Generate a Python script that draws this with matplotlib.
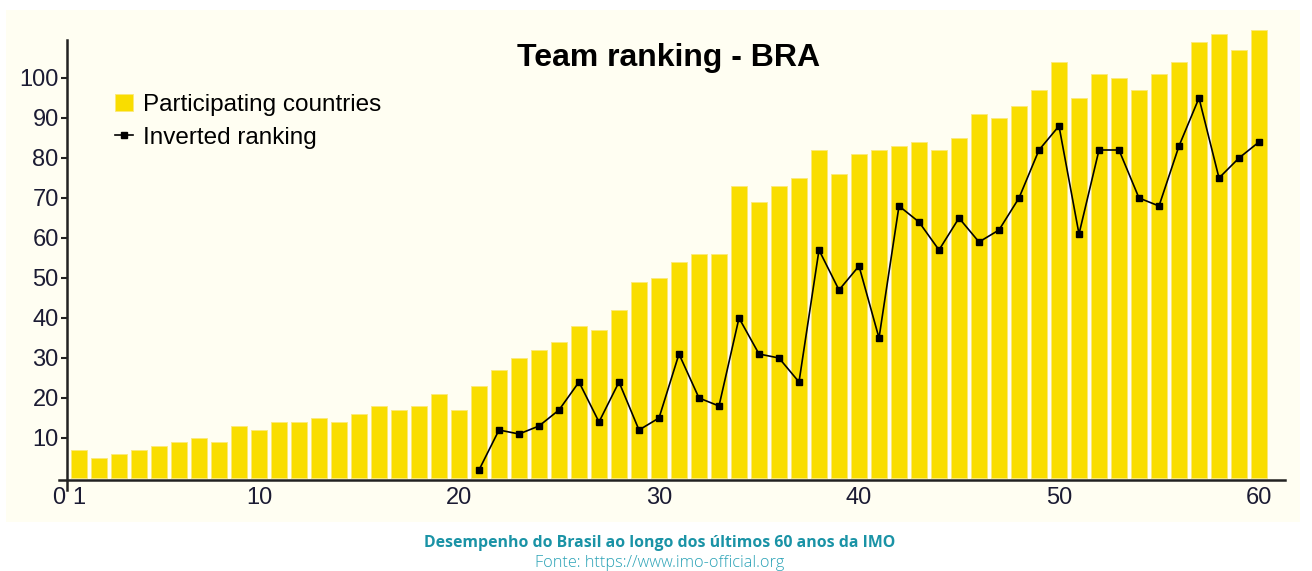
import numpy as np
import matplotlib.pyplot as plt

# participating countries per edition (1..60)
editions = np.arange(1, 61)
countries = [7, 5, 6, 7, 8, 9, 10, 9, 13, 12,
             14, 14, 15, 14, 16, 18, 17, 18, 21, 17,
             23, 27, 30, 32, 34, 38, 37, 42, 49, 50,
             54, 56, 56, 73, 69, 73, 75, 82, 76, 81,
             82, 83, 84, 82, 85, 91, 90, 93, 97, 104,
             95, 101, 100, 97, 101, 104, 109, 111, 107, 112]

# Brazil inverted ranking, editions 21..60
rank_editions = np.arange(21, 61)
inv_ranking = [2, 12, 11, 13, 17, 24, 14, 24, 12, 15,
               31, 20, 18, 40, 31, 30, 24, 57, 47, 53,
               35, 68, 64, 57, 65, 59, 62, 70, 82, 88,
               61, 82, 82, 70, 68, 83, 95, 75, 80, 84]

yticks = [10, 20, 30, 40, 50, 60, 70, 80, 90, 100]
xticks = [0, 1, 10, 20, 30, 40, 50, 60]

W, H = 1312, 571
fig = plt.figure(figsize=(W / 100, H / 100), dpi=100)
fig.patch.set_facecolor('white')

# cream panel behind the chart
panel = plt.Rectangle((6 / W, 1 - 522 / H), (1300 - 6) / W, (522 - 10) / H,
                      transform=fig.transFigure, facecolor='#fffef2',
                      edgecolor='none', zorder=-10)
fig.add_artist(panel)

ax = fig.add_axes([59 / W, 91 / H, 1226 / W, 460 / H])
ax.set_facecolor('none')

bars = ax.bar(editions, countries, width=0.82, color='#f9dd00', edgecolor='#fbe97a',
              linewidth=0.6, clip_on=False, label='Participating countries', zorder=2)
line, = ax.plot(rank_editions, inv_ranking, color='black', lw=1.2, marker='s', ms=4,
                label='Inverted ranking', zorder=3)

ax.set_xlim(0, 61.3)
ax.set_ylim(-0.5, 114.5)

for s in ['top', 'right']:
    ax.spines[s].set_visible(False)
ax.spines['left'].set_position(('data', 0.4))
ax.spines['left'].set_bounds(-3, 109.5)
ax.spines['left'].set_linewidth(1.8)
ax.spines['left'].set_color('#222222')
ax.spines['bottom'].set_linewidth(1.8)
ax.spines['bottom'].set_color('#222222')

ax.set_yticks(yticks)
ax.set_xticks(xticks)
ax.set_xticklabels([str(t) for t in xticks])
ax.tick_params(axis='y', length=4, width=1.5, color='#222222', pad=2,
               labelsize=17, labelcolor='#1b1b33')
ax.tick_params(axis='x', length=0, pad=5, labelsize=17, labelcolor='#1b1b33')
for lab in ax.get_xticklabels() + ax.get_yticklabels():
    lab.set_fontfamily('Liberation Sans')

ax.text(0.5 * (517 + 820) / W, 1 - 58 / H, 'Team ranking - BRA',
        transform=fig.transFigure, ha='center', va='center',
        fontsize=23, fontweight='bold', family='Liberation Sans', color='black')

leg = ax.legend([bars, line], ['Participating countries', 'Inverted ranking'],
                loc='upper left', bbox_to_anchor=(115 / W, 1 - 94 / H),
                bbox_transform=fig.transFigure, frameon=False,
                prop={'family': 'Liberation Sans', 'size': 17.5},
                handlelength=0.75, handleheight=0.7, handletextpad=0.4,
                labelspacing=0.45, borderaxespad=0, borderpad=0)

fig.text(660 / W, 1 - 543 / H, 'Desempenho do Brasil ao longo dos últimos 60 anos da IMO',
         ha='center', va='center', fontsize=11.4, fontweight='bold',
         family='Open Sans', color='#1a93a6')
fig.text(660 / W, 1 - 563 / H, 'Fonte: https://www.imo-official.org',
         ha='center', va='center', fontsize=11.7, fontweight='light',
         family='Open Sans', color='#2aa2b6')

fig.savefig('out.png', dpi=100)
